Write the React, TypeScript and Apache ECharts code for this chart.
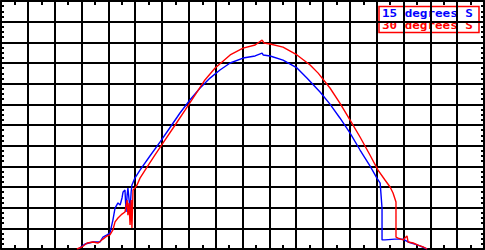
import React, { useEffect, useRef } from "react";
import * as echarts from "echarts";

const legendNames = ["15 degrees S", "30 degrees S"];
const seriesColors = ["#0000ff", "#ff0000"];

const xTicks = { min: 0, max: 18, interval: 1 };
const yTicks = { min: 0, max: 12, interval: 1 };

const data15: [number, number][] = [
  [2.87, 0], [3.13, 0.24], [3.43, 0.34], [3.69, 0.34], [3.8, 0.58], [3.95, 0.68],
  [4.06, 0.77], [4.17, 1.4], [4.25, 1.98], [4.36, 2.23], [4.44, 2.13], [4.51, 2.47],
  [4.55, 2.76], [4.62, 2.85], [4.66, 1.79], [4.7, 2.61], [4.73, 2.95], [4.81, 1.89],
  [4.85, 2.76], [4.88, 3.1], [4.99, 3.43], [5.18, 3.82], [5.55, 4.5], [5.93, 5.18],
  [6.3, 5.88], [6.67, 6.58], [7.04, 7.21], [7.42, 7.79], [7.79, 8.27], [8.16, 8.66],
  [8.54, 9.0], [9.02, 9.24], [9.47, 9.34], [9.73, 9.48], [9.77, 9.39], [10.03, 9.34],
  [10.51, 9.14], [11.03, 8.76], [11.4, 8.27], [11.89, 7.6], [12.26, 7.01], [12.63, 6.34],
  [13.01, 5.61], [13.38, 4.79], [13.75, 4.02], [14.01, 3.43], [14.13, 3.19], [14.2, 1.98],
  [14.2, 0.44], [14.31, 0.44], [14.68, 0.48], [14.98, 0.48], [15.17, 0.34], [15.54, 0.19],
  [15.88, 0],
];

const data30: [number, number][] = [
  [2.83, 0], [3.02, 0.1], [3.21, 0.29], [3.43, 0.34], [3.62, 0.29], [3.8, 0.48],
  [3.95, 0.63], [4.06, 0.68], [4.17, 0.92], [4.25, 1.31], [4.36, 1.5], [4.51, 1.69],
  [4.62, 1.79], [4.7, 2.37], [4.73, 1.64], [4.77, 2.23], [4.81, 1.16], [4.85, 2.37],
  [4.88, 1.02], [4.92, 2.85], [4.99, 2.95], [5.07, 3.1], [5.18, 3.43], [5.37, 3.82],
  [5.74, 4.55], [6.11, 5.27], [6.49, 6.0], [6.86, 6.72], [7.23, 7.45], [7.6, 8.18],
  [7.98, 8.76], [8.54, 9.39], [9.02, 9.72], [9.47, 9.87], [9.73, 10.11], [9.8, 9.97],
  [10.03, 9.92], [10.51, 9.77], [11.03, 9.39], [11.52, 8.9], [11.82, 8.51], [12.26, 7.79],
  [12.63, 7.06], [13.01, 6.24], [13.38, 5.42], [13.75, 4.55], [14.05, 3.82], [14.31, 3.34],
  [14.5, 3.0], [14.61, 2.71], [14.72, 2.27], [14.72, 0.58], [14.8, 0.53], [14.98, 0.44],
  [15.13, 0.63], [15.17, 0.34], [15.36, 0.29], [15.54, 0.19], [15.73, 0.1], [15.88, 0],
];

const black = "#000000";

function axisBase(position: string, minorSplit: number, minorLen: number, withSplit: boolean, range: any) {
  return {
    type: "value",
    position,
    min: range.min,
    max: range.max,
    interval: range.interval,
    axisLine: { show: true, onZero: false, lineStyle: { color: black, width: 2 } },
    axisTick: { show: true, inside: true, length: 0, lineStyle: { color: black, width: 0 } },
    axisLabel: { show: false },
    splitLine: { show: withSplit, lineStyle: { color: black, width: 2 } },
    minorTick: { show: true, splitNumber: minorSplit, length: minorLen, lineStyle: { color: black, width: 2 } },
    minorSplitLine: { show: false },
  };
}

const legendText = (text: string, color: string, y: number) => ({
  type: "text",
  x: 382,
  y,
  scaleX: 1.2,
  style: {
    text,
    fill: color,
    fontFamily: "DejaVu Sans Mono",
    fontWeight: "bold",
    fontSize: 10.5,
    align: "left",
    verticalAlign: "middle",
  },
});

export default function App() {
  const ref = useRef<HTMLDivElement>(null);
  useEffect(() => {
    if (!ref.current) return;
    const chart = echarts.init(ref.current, undefined, { renderer: "svg" });
    chart.setOption({
      animation: false,
      backgroundColor: "#ffffff",
      grid: { left: 1, right: 1, top: 1, bottom: 1, containLabel: false },
      xAxis: [
        axisBase("bottom", 2, 4, true, xTicks),
        axisBase("top", 2, 4, false, xTicks),
      ],
      yAxis: [
        axisBase("left", 4, 3, true, yTicks),
        axisBase("right", 4, 3, false, yTicks),
      ],
      series: [
        {
          name: legendNames[0],
          type: "line",
          data: data15,
          showSymbol: false,
          symbol: "none",
          lineStyle: { color: seriesColors[0], width: 1.4 },
          itemStyle: { color: seriesColors[0] },
          z: 3,
        },
        {
          name: legendNames[1],
          type: "line",
          data: data30,
          showSymbol: false,
          symbol: "none",
          lineStyle: { color: seriesColors[1], width: 1.4 },
          itemStyle: { color: seriesColors[1] },
          z: 4,
        },
      ],
      graphic: [
        {
          type: "group",
          z: 100,
          children: [
            {
              type: "rect",
              shape: { x: 379, y: 6.5, width: 100, height: 26 },
              style: { fill: "#ffffff", stroke: seriesColors[1], lineWidth: 1.5 },
            },
            legendText(legendNames[0], seriesColors[0], 13.8),
            legendText(legendNames[1], seriesColors[1], 25.6),
          ],
        },
      ],
    });
    return () => chart.dispose();
  }, []);
  return (
    <div
      ref={ref}
      style={{ position: "fixed", left: 0, top: 0, width: 485, height: 250, background: "#fff" }}
    />
  );
}
